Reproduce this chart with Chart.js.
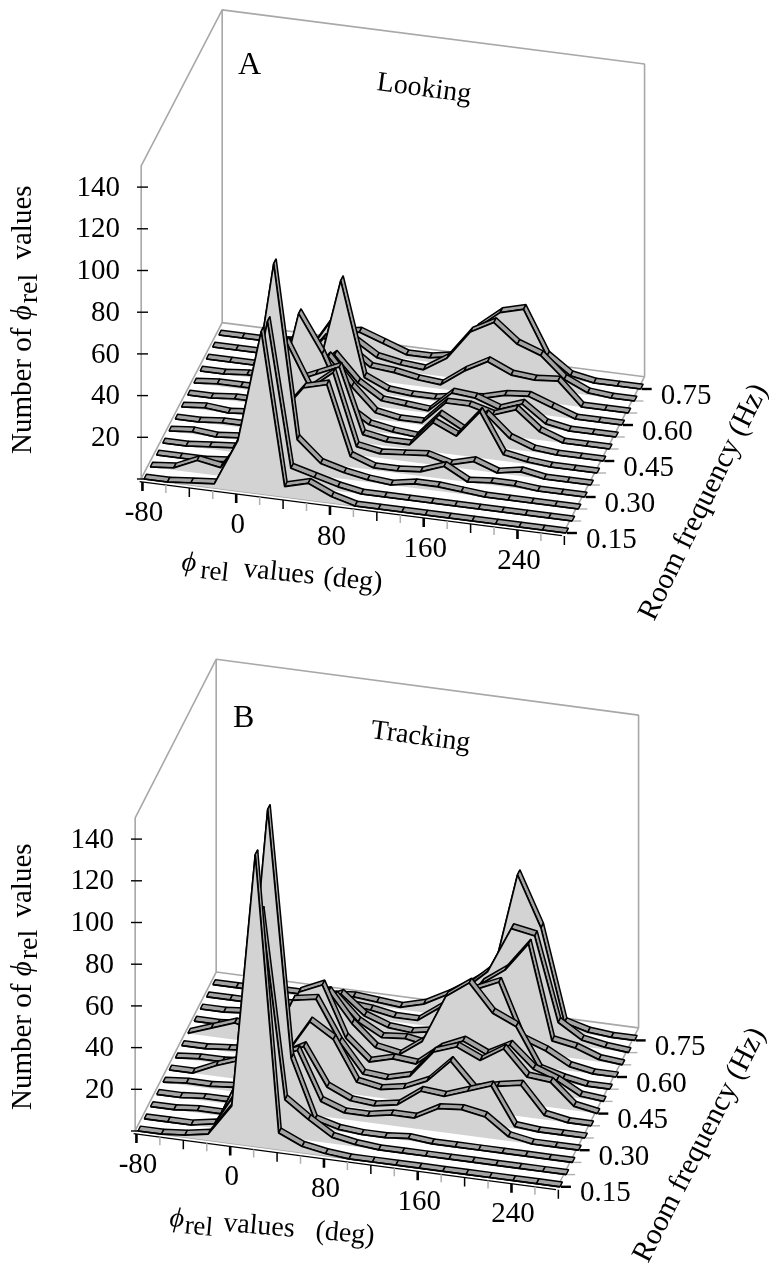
<!DOCTYPE html>
<html>
<head>
<meta charset="utf-8">
<title>Room frequency histograms</title>
<script src="https://cdn.jsdelivr.net/npm/chart.js@4"></script>
<style>
    html, body { margin: 0; padding: 0; background: #fff; }
    canvas { display: block; }
</style>
</head>
<body>
<canvas id="chart" width="769" height="1266"></canvas>
<script>
/* ---------- data ---------- */

const phiValues = [-80, -60, -40, -20, 0, 20, 40, 60, 80, 100, 120, 140, 160, 180, 200, 220, 240, 260, 280];
const frequencies = [0.15, 0.20, 0.25, 0.30, 0.35, 0.40, 0.45, 0.50, 0.55, 0.60, 0.65, 0.70, 0.75];

const countTicks = [20, 40, 60, 80, 100, 120, 140];
const phiTickLabels = [-80, 0, 80, 160, 240];
const freqTickLabels = ['0.15', '0.30', '0.45', '0.60', '0.75'];

// one row per room frequency, front (0.15 Hz) to back (0.75 Hz)
const lookingCounts = [
    [0, 0, 1, 2, 24, 78, 5, 8, 3, 0, 0, 0, 0, 0, 0, 0, 0, 0, 0],
    [0, 1, 6, 4, 20, 77, 8, 5, 2, 0, 0, 0, 0, 0, 0, 0, 0, 0, 0],
    [0, 0, 0, 1, 25, 99, 16, 6, 3, 1, 0, 2, 2, 1, 0, 0, 0, 0, 0],
    [0, 0, 1, 2, 10, 21, 35, 38, 5, 1, 1, 2, 6, 0, 1, 1, 0, 0, 0],
    [0, 1, 0, 1, 10, 50, 29, 38, 4, 2, 3, 4, 1, 4, 0, 2, 0, 0, 0],
    [0, 0, 1, 1, 8, 25, 30, 35, 4, 2, 2, 14, 9, 22, 3, 1, 0, 0, 0],
    [0, 1, 0, 1, 5, 52, 34, 10, 3, 1, 0, 12, 6, 15, 5, 1, 0, 0, 0],
    [0, 0, 1, 1, 5, 15, 27, 14, 3, 1, 1, 12, 12, 9, 13, 4, 0, 0, 0],
    [0, 1, 1, 1, 5, 12, 22, 10, 3, 2, 1, 11, 10, 6, 10, 2, 0, 0, 0],
    [0, 0, 1, 1, 2, 6, 52, 7, 2, 1, 1, 3, 4, 7, 8, 4, 0, 0, 0],
    [0, 0, 0, 1, 3, 17, 14, 6, 5, 3, 2, 10, 16, 11, 10, 11, 0, 0, 0],
    [0, 0, 0, 1, 2, 19, 12, 5, 3, 2, 9, 23, 29, 20, 16, 6, 1, 0, 0],
    [0, 0, 0, 1, 2, 8, 10, 6, 2, 2, 4, 19, 28, 31, 10, 2, 0, 0, 0]
];

const trackingCounts = [
    [0, 0, 1, 3, 18, 140, 8, 3, 1, 0, 0, 0, 0, 0, 0, 0, 0, 0, 0],
    [0, 0, 0, 2, 20, 107, 18, 10, 3, 1, 0, 0, 0, 0, 0, 0, 0, 0, 0],
    [0, 0, 1, 1, 25, 150, 32, 4, 1, 0, 0, 1, 0, 0, 0, 0, 0, 0, 0],
    [0, 0, 1, 1, 6, 25, 30, 7, 3, 3, 5, 5, 11, 12, 10, 2, 0, 0, 0],
    [0, 1, 1, 2, 6, 20, 26, 8, 3, 2, 4, 12, 11, 15, 19, 1, 0, 0, 0],
    [0, 0, 5, 9, 12, 15, 32, 25, 6, 4, 6, 11, 22, 10, 13, 15, 2, 0, 0],
    [0, 1, 1, 2, 10, 35, 37, 18, 4, 3, 6, 19, 23, 18, 25, 13, 12, 2, 0],
    [0, 0, 1, 2, 10, 33, 38, 14, 4, 7, 6, 15, 20, 15, 21, 11, 7, 1, 0],
    [0, 4, 8, 5, 8, 25, 29, 15, 5, 3, 11, 34, 42, 29, 24, 5, 2, 0, 0],
    [0, 0, 1, 2, 5, 15, 21, 10, 4, 5, 3, 15, 33, 38, 12, 8, 2, 0, 0],
    [0, 0, 1, 1, 3, 10, 16, 7, 3, 2, 4, 15, 30, 38, 52, 7, 5, 1, 0],
    [0, 0, 0, 1, 2, 4, 5, 4, 2, 2, 10, 20, 30, 52, 50, 10, 3, 1, 0],
    [0, 0, 0, 1, 1, 2, 3, 2, 1, 4, 10, 17, 25, 72, 48, 4, 1, 0, 0]
];

/* ---------- projection ---------- */

const BAND = 0.4;      // ribbon depth, in frequency steps
const FACE = '#d3d3d3';
const TOP = '#a3a3a3';
const WALL = '#a8a8a8';

const panelA = { ox: 144, oy: 479, kx: 23.44, ky: 3.0, jx: 6.23, jy: -12.0, zy: 2.085, counts: lookingCounts };
const panelB = { ox: 138, oy: 1131, kx: 23.44, ky: 3.1, jx: 6.23, jy: -12.2, zy: 2.085, counts: trackingCounts };

// grid position (phi step, frequency step, count) to x/y on the flat chart scales
function project(p, k, j, z) {
    return {
        x: p.ox + p.kx * k + p.jx * j,
        y: p.oy + p.ky * k + p.jy * j - p.zy * z
    };
}

function polyline(points, color, width) {
    return { data: points, showLine: true, pointRadius: 0, borderColor: color, borderWidth: width, fill: false };
}

function polygon(points, fillColor, borderColor, width) {
    return { data: points, showLine: true, pointRadius: 0, backgroundColor: fillColor,
        borderColor: borderColor, borderWidth: width, fill: 'shape' };
}

/* ---------- datasets, in painting order ---------- */

function frameDatasets(p) {
    const left = -0.12, right = 17.9, back = 13;
    const fl = project(p, left, 0, 0), fr = project(p, right, 0, 0);
    const bl = project(p, left, back, 0), br = project(p, right, back, 0);
    const flTop = project(p, left, 0, 150), blTop = project(p, left, back, 150), brTop = project(p, right, back, 150);
    const list = [
        polyline([fl, flTop, blTop, brTop, br], WALL, 1.6),
        polyline([blTop, bl], WALL, 1.6),
        polyline([fl, bl, br, fr, fl], WALL, 1.6)
    ];

    // front axis line and ticks
    list.push(polyline([project(p, left, -0.25, 0), project(p, right, -0.25, 0)], '#000', 1.2));
    phiValues.forEach((phi, k) => {
        const major = phi % 40 === 0;
        const thick = phi % 80 === 0;
        const a = project(p, k, -0.25, 0);
        const b = { x: a.x, y: a.y + (major ? 9 : 8) };
        list.push(polyline([a, b], major ? '#000' : '#b0b0b0', thick ? 2.6 : 1.5));
    });

    // depth axis ticks
    frequencies.forEach((f, j) => {
        const major = j % 3 === 0;
        const a = project(p, 18, j, 0);
        const b = { x: a.x + (major ? 11 : 9), y: a.y };
        list.push(polyline([{ x: a.x + 1, y: a.y }, b], major ? '#000' : '#b0b0b0', major ? 2.4 : 1.4));
    });

    // count axis ticks
    [0].concat(countTicks).forEach(c => {
        const a = project(p, 0, 0, c);
        const ax = p.ox - 7;
        const bx = p.ox + (c === 0 ? 0 : 4);
        list.push(polyline([{ x: ax, y: a.y }, { x: bx, y: a.y }], '#000', 1.4));
    });
    return list;
}

function ribbonDatasets(p) {
    const list = [];
    for (let j = frequencies.length - 1; j >= 0; j--) {
        const row = p.counts[j];
        // ribbon top, one quad per bin
        for (let k = 0; k < row.length - 1; k++) {
            list.push(polygon([
                project(p, k, j, row[k]),
                project(p, k + 1, j, row[k + 1]),
                project(p, k + 1, j + BAND, row[k + 1]),
                project(p, k, j + BAND, row[k]),
                project(p, k, j, row[k])
            ], TOP, '#000', 1.5));
        }
        // wall under the curve
        const curve = row.map((z, k) => project(p, k, j, z));
        list.push(polygon(
            curve.concat([project(p, row.length - 1, j, 0), project(p, 0, j, 0), curve[0]]),
            FACE, 'rgba(0,0,0,0)', 1
        ));
        list.push(polyline(curve, '#000', 1.7));
    }
    return list;
}

const painted = [
    ...frameDatasets(panelA), ...ribbonDatasets(panelA),
    ...frameDatasets(panelB), ...ribbonDatasets(panelB)
];

/* ---------- text ---------- */

const SERIF = '"Liberation Serif", "Times New Roman", serif';
const TICK_FONT = '29px ' + SERIF;

function drawRuns(ctx, x, y, angle, runs) {
    ctx.save();
    ctx.translate(x, y);
    ctx.rotate(angle * Math.PI / 180);
    ctx.textAlign = 'left';
    ctx.textBaseline = 'alphabetic';
    let cx = 0;
    runs.forEach(r => {
        ctx.font = r.font;
        ctx.fillText(r.t, cx, r.dy || 0);
        cx += ctx.measureText(r.t).width + (r.gap || 0);
    });
    ctx.restore();
}

function phiRuns(size, tail, phiGap, relGap) {
    return [
        { t: 'ϕ', font: 'italic ' + size + 'px ' + SERIF, gap: phiGap },
        { t: 'rel', font: (size - 1) + 'px ' + SERIF, dy: 6, gap: relGap }
    ].concat(tail);
}

const panelText = [
    {
        p: panelA,
        letter: ['A', 238, 74], title: ['Looking', 376, 90, 7.5],
        countX: 120,
        yLabel: [31, 454], yRelGap: 7,
        xLabel: [181, 570, 6],
        xLabelTail: [
            { t: ' values ', font: '28px ' + SERIF, gap: 2 },
            { t: '(deg)', font: '28px ' + SERIF }
        ],
        xPhiGap: 5, xRelGap: 7,
        zLabel: [654, 622, -64]
    },
    {
        p: panelB,
        letter: ['B', 233, 727], title: ['Tracking', 370, 738, 7.5],
        countX: 114,
        yLabel: [31, 1110], yRelGap: 5,
        xLabel: [169, 1226, 5],
        xLabelTail: [
            { t: ' values   ', font: '28px ' + SERIF },
            { t: '(deg)', font: '28px ' + SERIF }
        ],
        xPhiGap: 1, xRelGap: 3,
        zLabel: [648, 1264, -63]
    }
];

const textPlugin = {
    id: 'panelText',
    afterDraw(chart) {
        const ctx = chart.ctx;
        const sx = chart.scales.x, sy = chart.scales.y;
        ctx.save();
        ctx.fillStyle = '#000';
        panelText.forEach(t => {
            const p = t.p;

            ctx.font = TICK_FONT;
            ctx.textAlign = 'right';
            ctx.textBaseline = 'middle';
            countTicks.forEach(c => {
                ctx.fillText(String(c), t.countX, sy.getPixelForValue(project(p, 0, 0, c).y) + 1);
            });

            ctx.textAlign = 'center';
            phiTickLabels.forEach(v => {
                const q = project(p, phiValues.indexOf(v), 0, 0);
                ctx.fillText(String(v), sx.getPixelForValue(q.x), sy.getPixelForValue(q.y) + 34);
            });

            ctx.textAlign = 'left';
            freqTickLabels.forEach(v => {
                const j = frequencies.indexOf(Number(v));
                const q = project(p, 18, j, 0);
                ctx.fillText(v, sx.getPixelForValue(q.x) + 20, sy.getPixelForValue(q.y) + 7);
            });

            drawRuns(ctx, t.letter[1], t.letter[2], 0, [{ t: t.letter[0], font: '32px ' + SERIF }]);
            drawRuns(ctx, t.title[1], t.title[2], t.title[3], [{ t: t.title[0], font: '28px ' + SERIF }]);
            drawRuns(ctx, t.yLabel[0], t.yLabel[1], -90, [
                { t: 'Number of ', font: '29px ' + SERIF }
            ].concat(phiRuns(29, [{ t: ' values', font: '29px ' + SERIF }], 2, t.yRelGap)));
            drawRuns(ctx, t.xLabel[0], t.xLabel[1], t.xLabel[2], phiRuns(28, t.xLabelTail, t.xPhiGap, t.xRelGap));
            drawRuns(ctx, t.zLabel[0], t.zLabel[1], t.zLabel[2], [{ t: 'Room frequency (Hz)', font: '29.5px ' + SERIF }]);
        });
        ctx.restore();
    }
};

/* ---------- chart ---------- */

new Chart(document.getElementById('chart'), {
    type: 'scatter',
    data: { datasets: painted.slice().reverse() },   // first dataset is painted last
    options: {
        responsive: false,
        animation: false,
        devicePixelRatio: 1,
        layout: { padding: 0 },
        elements: { line: { tension: 0, borderJoinStyle: 'bevel' } },
        scales: {
            x: { type: 'linear', min: 0, max: 769, display: false },
            y: { type: 'linear', min: 0, max: 1266, reverse: true, display: false }
        },
        plugins: { legend: { display: false }, tooltip: { enabled: false } }
    },
    plugins: [textPlugin]
});
</script>
</body>
</html>
